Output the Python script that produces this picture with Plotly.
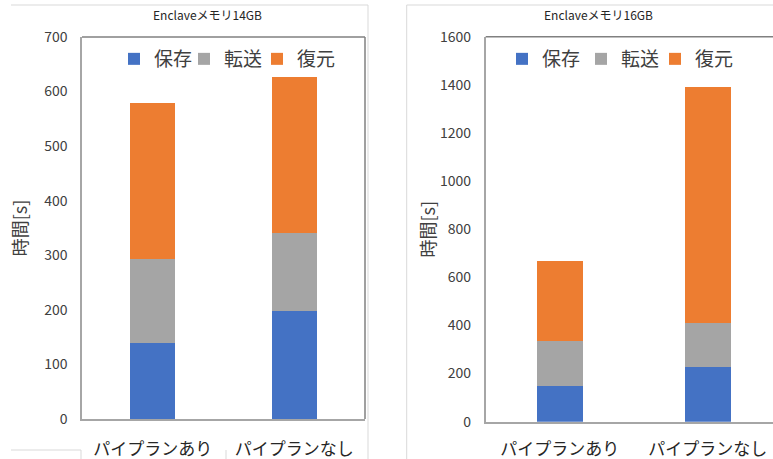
import plotly.graph_objects as go

# data
categories = ["パイプランあり", "パイプランなし"]
series_names = ["保存", "転送", "復元"]
colors = ["#4472C4", "#A5A5A5", "#ED7D31"]

# Enclave memory 14GB
save_14 = [139, 197]
transfer_14 = [154, 144]
restore_14 = [286, 285]

# Enclave memory 16GB
save_16 = [147, 227]
transfer_16 = [188, 182]
restore_16 = [332, 981]

titles = ["Enclaveメモリ14GB", "Enclaveメモリ16GB"]
y_title = "時間[s]"

W, H = 773, 459
FONT = "Noto Sans CJK JP"
TXT = "#404040"


def px(x):
    return x / W


def py(y):
    return 1 - y / H


fig = go.Figure()

# every legend entry gets its own legend box so it can sit where the reference has it
legend_x = [114, 184, 257, 502, 581, 655]

groups = [
    ("x", "y", [save_14, transfer_14, restore_14], 0.32),
    ("x2", "y2", [save_16, transfer_16, restore_16], 0.31),
]
k = 0
for xa, ya, series, bw in groups:
    for name, vals, col in zip(series_names, series, colors):
        k += 1
        fig.add_trace(go.Bar(name=name, x=categories, y=vals, marker_color=col,
                             marker_line_width=0, width=bw, xaxis=xa, yaxis=ya,
                             showlegend=True,
                             legend="legend" if k == 1 else "legend%d" % k))

axis_common = dict(showgrid=False, zeroline=False, showline=True, automargin=False,
                   linecolor="#a6a6a6", linewidth=1.5, ticks="")

# right chart is cut off by the screenshot edge, so its x range stops early
right_end = -0.5 + (W - 485.7) / 148

fig.update_layout(
    width=W, height=H,
    margin=dict(l=0, r=0, t=0, b=0),
    paper_bgcolor="white", plot_bgcolor="white",
    barmode="stack",
    showlegend=True,
    font=dict(family=FONT, color=TXT),
    xaxis=dict(domain=[px(82), px(365)], range=[-0.5, 1.5], anchor="y", tickangle=0,
               tickfont=dict(size=17, color="#262626"), ticklabelstandoff=14,
               **axis_common),
    yaxis=dict(domain=[py(419), py(37)], range=[0, 700], dtick=100, anchor="x",
               tickfont=dict(size=14, color=TXT), ticklabelstandoff=10,
               title=dict(text=y_title, font=dict(size=18, color=TXT), standoff=12),
               **axis_common),
    xaxis2=dict(domain=[px(485.7), 1.0], range=[-0.5, right_end], anchor="y2", tickangle=0,
                tickfont=dict(size=17, color="#262626"), ticklabelstandoff=11,
                **axis_common),
    yaxis2=dict(domain=[py(421.7), py(36.7)], range=[0, 1600], dtick=200, anchor="x2",
                tickfont=dict(size=14, color=TXT), ticklabelstandoff=10,
                title=dict(text=y_title, font=dict(size=18, color=TXT), standoff=0),
                **axis_common),
)

for i, lx in enumerate(legend_x):
    key = "legend" if i == 0 else "legend%d" % (i + 1)
    fig.update_layout({key: dict(orientation="h", x=px(lx), xanchor="left",
                                 y=py(59), yanchor="middle", itemwidth=30,
                                 font=dict(size=19, color=TXT),
                                 bgcolor="rgba(0,0,0,0)")})

fig.add_annotation(text=titles[0], x=px(207.5), y=py(15), xref="paper", yref="paper",
                   xanchor="center", yanchor="middle", showarrow=False,
                   font=dict(size=12, color="#262626"))
fig.add_annotation(text=titles[1], x=px(598), y=py(15), xref="paper", yref="paper",
                   xanchor="center", yanchor="middle", showarrow=False,
                   font=dict(size=12, color="#262626"))

# frames: outer chart borders (light) and plot-area top/right (dark)
light = dict(color="#d9d9d9", width=1)
dark = dict(color="#808080", width=1.5)
segments = [
    ((11, 5), (368, 5), light),
    ((368, 5), (368, 459), light),
    ((11, 450), (81, 450), light),
    ((81, 450), (81, 459), light),
    ((226, 450), (226, 459), light),
    ((406.7, 5), (773, 5), light),
    ((406.7, 5), (406.7, 459), light),
    ((82, 37), (365, 37), dark),
    ((365, 37), (365, 419), dark),
    ((485.7, 36.7), (773, 36.7), dark),
]
for (x0, y0), (x1, y1), ln in segments:
    fig.add_shape(type="line", xref="paper", yref="paper",
                  x0=px(x0), y0=py(y0), x1=px(x1), y1=py(y1), line=ln)

# drop the default 8px body margin so the figure sits at the window corner
fig.write_html("out.html", config={"displayModeBar": False},
               post_script="document.body.style.margin='0';")
